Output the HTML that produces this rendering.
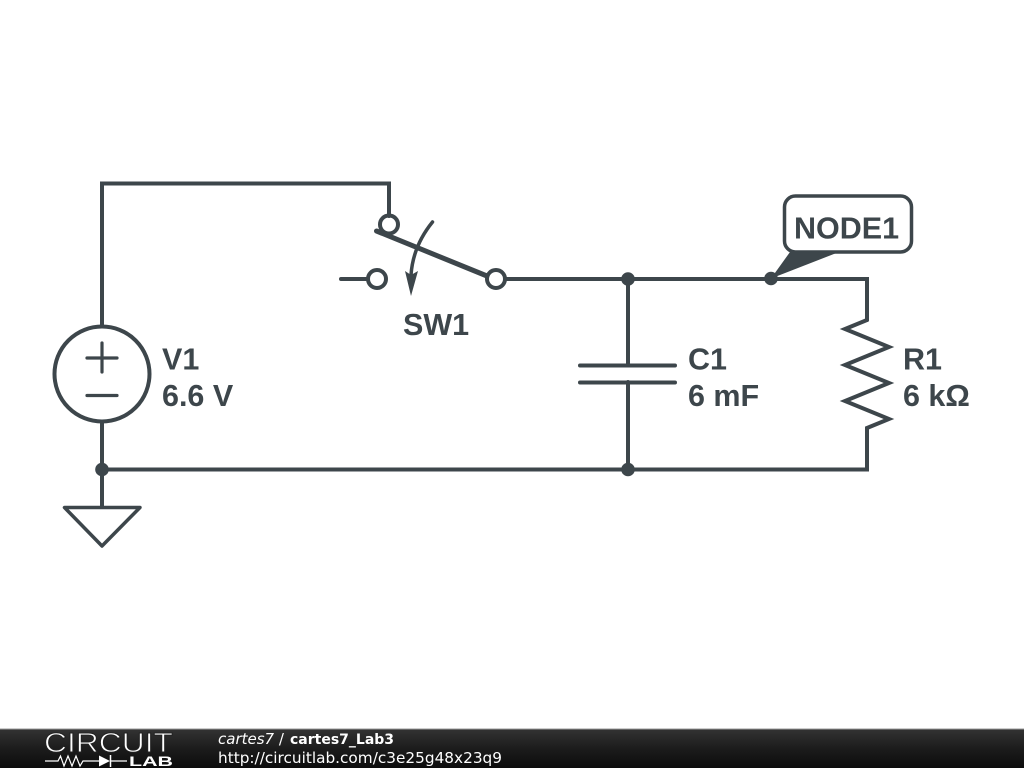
<!DOCTYPE html>
<html>
<head>
<meta charset="utf-8">
<style>
html,body{margin:0;padding:0;background:#fff;width:1024px;height:768px;overflow:hidden}
svg{display:block;position:absolute;left:0;top:0}
</style>
</head>
<body>
<svg width="1024" height="768" viewBox="0 0 1024 768" xmlns="http://www.w3.org/2000/svg">
<defs>
<linearGradient id="bar" x1="0" y1="0" x2="0" y2="1">
<stop offset="0" stop-color="#333"/>
<stop offset="0.5" stop-color="#1c1c1c"/>
<stop offset="1" stop-color="#0c0c0c"/>
</linearGradient>
</defs>
<rect width="1024" height="768" fill="#fff"/>
<g fill="none" stroke="#3d464b" stroke-width="4" stroke-linecap="round" stroke-linejoin="miter">
<!-- top wire -->
<path d="M102 326V183.500H389V216"/>
<!-- main wires -->
<path d="M505 279H867V320"/>
<path d="M867 320 L845 329 L889 347 L845 365 L889 383 L845 401 L889 419 L867 428 V469.500 H102"/>
<path d="M628 279V365M628 382V469"/>
<path stroke-width="4" d="M580 365.500H675M580 382.500H675"/>
<path d="M102 422V507"/>
<!-- ground -->
<path stroke-width="3.500" stroke-linejoin="round" d="M64.500 507.500H140L102 546Z"/>
<!-- source -->
<circle cx="102" cy="374" r="47.500" stroke-width="4"/>
<path stroke-width="3.200" d="M87 358H117M102 343V372M87 395.500H117"/>
<!-- switch -->
<circle cx="389" cy="224.500" r="9" stroke-width="4"/>
<circle cx="377" cy="279" r="9" stroke-width="4"/>
<circle cx="496" cy="279" r="9" stroke-width="4"/>
<path d="M341 279H368"/>
<path stroke-width="5" d="M376.500 231L487 276"/>
<path stroke-width="3.500" d="M432.500 222Q413 246 411 275"/>
</g>
<!-- arrow head -->
<path d="M405 271L411 275L418 271L411 296Z" fill="#3d464b"/>
<!-- junctions -->
<g fill="#3d464b">
<circle cx="102" cy="469.500" r="6.800"/>
<circle cx="628" cy="279" r="6.800"/>
<circle cx="628" cy="469.500" r="6.800"/>
<circle cx="771" cy="278.500" r="6.800"/>
</g>
<!-- node label -->
<rect x="784.500" y="196" width="127" height="56" rx="11" ry="11" fill="#fff" stroke="#3d464b" stroke-width="3.500"/>
<path d="M771 278.500L790 252H839Z" fill="#3d464b"/>
<g font-family="'Liberation Sans',Arial,sans-serif" font-weight="700" font-size="30.500px" fill="#3d464b">
<text x="794" y="238.500">NODE1</text>
<text x="403" y="335">SW1</text>
<text x="162" y="369.500">V1</text>
<text x="162" y="406">6.6 V</text>
<text x="688" y="369.500">C1</text>
<text x="688" y="406">6 mF</text>
<text x="903" y="369.500">R1</text>
<text x="903" y="406">6 kΩ</text>
</g>
<!-- footer -->
<rect x="0" y="729" width="1024" height="39" fill="url(#bar)"/>
<rect x="0" y="728.500" width="1024" height="1" fill="#999"/>
<text x="44" y="752" font-family="'Liberation Sans',Arial,sans-serif" font-size="27.500px" fill="#fff" stroke="#222" stroke-width="0.900" textLength="129" lengthAdjust="spacingAndGlyphs">CIRCUIT</text>
<text x="129" y="766" font-family="'Liberation Sans',Arial,sans-serif" font-size="14px" font-weight="700" fill="#fff" textLength="44" lengthAdjust="spacingAndGlyphs">LAB</text>
<path d="M45 761H58L60.500 756L64 766L68 756L72 766L76 756L80 766L83 761H99M111 761H127" fill="none" stroke="#fff" stroke-width="1.200"/>
<path d="M99 755.500V766.500L110 761Z" fill="#fff"/>
<path d="M110.500 755V767" stroke="#fff" stroke-width="1.500"/>
<text x="218" y="744" font-family="'DejaVu Sans',sans-serif" font-size="15px" fill="#fff"><tspan font-style="italic">cartes7</tspan> <tspan>/</tspan></text>
<text x="290" y="744" font-family="'DejaVu Sans',sans-serif" font-size="14px" font-weight="700" fill="#fff">cartes7_Lab3</text>
<text x="218" y="763" font-family="'DejaVu Sans',sans-serif" font-size="15.300px" fill="#fff">http://circuitlab.com/c3e25g48x23q9</text>
</svg>
</body>
</html>
